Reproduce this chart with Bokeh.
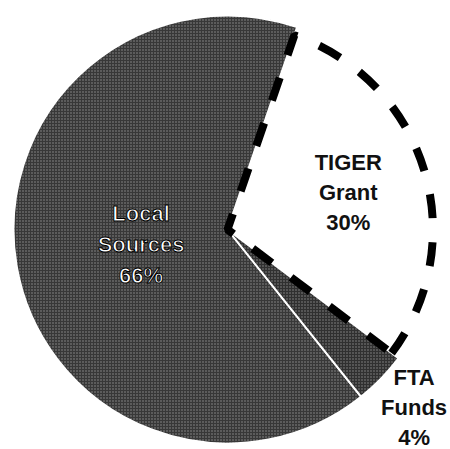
import math
from bokeh.plotting import figure
from bokeh.models import Range1d
from bokeh.core.properties import value
from bokeh.embed import file_html
from bokeh.resources import INLINE

# ---- data ----
categories = ["Local Sources", "TIGER Grant", "FTA Funds"]
shares = [66, 30, 4]
labels = ["Local\nSources\n66%", "TIGER\nGrant\n30%", "FTA\nFunds\n4%"]

# ---- layout / style ----
W, H = 450, 449
CX, CY = 227, H - 229
R = 214
START_COMPASS = 19.0  # degrees clockwise from top where TIGER slice begins

p = figure(width=W, height=H, output_backend="svg", toolbar_location=None,
           x_range=Range1d(0, W), y_range=Range1d(0, H), min_border=0)
p.axis.visible = False
p.grid.visible = False
p.outline_line_color = None
p.background_fill_color = "white"
p.border_fill_color = "white"

# slice angles clockwise from START_COMPASS, order: TIGER, FTA, Local
order = [1, 2, 0]
total = float(sum(shares))
bounds = {}
c = START_COMPASS
for i in order:
    span = shares[i] / total * 360.0
    bounds[i] = (c, c + span)
    c += span

def to_math(compass_deg):
    return math.radians(90.0 - compass_deg)

# gray textured slices (Local, FTA)
gray = {0: "#383838", 2: "#303030"}
for i in (0, 2):
    a0, a1 = bounds[i]
    p.wedge(x=CX, y=CY, radius=R, start_angle=to_math(a1), end_angle=to_math(a0),
            fill_color=gray[i], line_color="white", line_width=2,
            hatch_pattern="dot", hatch_color="white", hatch_alpha=0.45,
            hatch_scale=3, hatch_weight=1.2)

# TIGER slice: white, dashed outline
a0, a1 = bounds[1]
p.wedge(x=CX, y=CY, radius=R * 0.96, start_angle=to_math(a1), end_angle=to_math(a0),
        fill_color="white", line_color="black", line_width=8, line_dash="24 24")

# labels
rfac = [0.41, 0.59, 1.19]
for i in range(3):
    a0, a1 = bounds[i]
    mid = to_math((a0 + a1) / 2.0)
    lx = CX + rfac[i] * R * math.cos(mid)
    ly = CY + rfac[i] * R * math.sin(mid)
    if i == 0:
        p.text(x=[lx], y=[ly], text=[labels[i]], text_font=value("Liberation Sans"),
               text_font_style="bold", text_font_size="22px", text_color="white",
               text_outline_color="black", text_align="center", text_baseline="middle",
               text_line_height=1.25)
    else:
        p.text(x=[lx + (4 if i == 2 else 0)], y=[ly], text=[labels[i]],
               text_font=value("Liberation Sans"),
               text_font_style="bold", text_font_size="22px", text_color="#111111",
               text_align="center", text_baseline="middle", text_line_height=1.2)

open("out.html", "w").write(file_html(p, INLINE))
